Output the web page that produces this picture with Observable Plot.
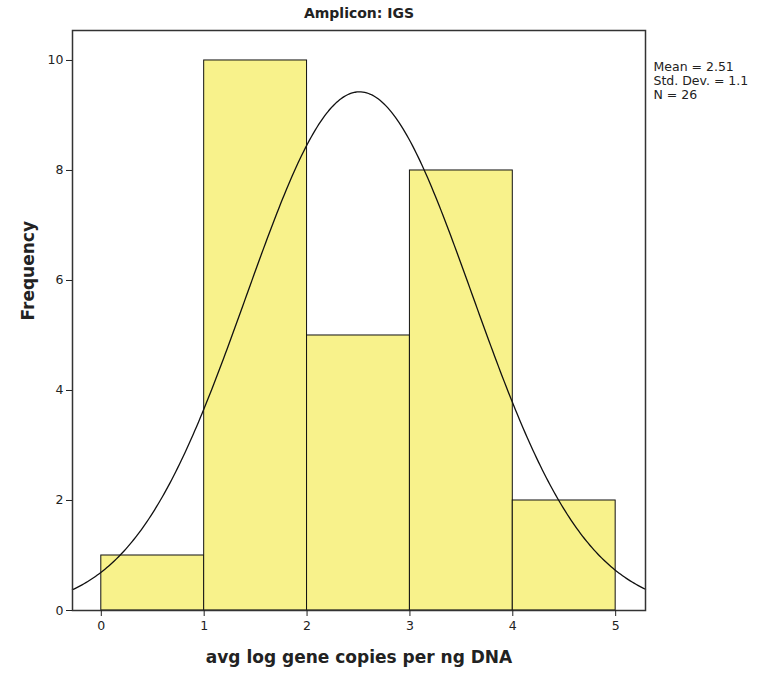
<!DOCTYPE html>
<html>
<head>
<meta charset="utf-8">
<script src="https://cdn.jsdelivr.net/npm/d3@7"></script>
<script src="https://cdn.jsdelivr.net/npm/@observablehq/plot@0.6"></script>
<style>
  html, body { margin: 0; padding: 0; background: #fff; }
  #chart { width: 765px; height: 679px; }
</style>
</head>
<body>
<div id="chart"></div>
<script>
const binStart = [0, 1, 2, 3, 4];
const binEnd = [1, 2, 3, 4, 5];
const frequency = [1, 10, 5, 8, 2];
const xTicks = [0, 1, 2, 3, 4, 5];
const yTicks = [0, 2, 4, 6, 8, 10];
const meanVal = 2.51;
const sdVal = 1.1;
const nVal = 26;
const statLines = ["Mean = 2.51", "Std. Dev. = 1.1", "N = 26"];

const bars = binStart.map((s, i) => ({x1: s, x2: binEnd[i], y: frequency[i]}));

const xDomain = [-0.28, 5.29];
const curve = d3.range(0, 301).map(i => {
  const x = xDomain[0] + (xDomain[1] - xDomain[0]) * i / 300;
  const z = (x - meanVal) / sdVal;
  return {x, y: nVal * 1 / (sdVal * Math.sqrt(2 * Math.PI)) * Math.exp(-0.5 * z * z)};
});

const font = "'DejaVu Sans', sans-serif";

const plot = Plot.plot({
  width: 765,
  height: 679,
  marginLeft: 72,
  marginRight: 120,
  marginTop: 30,
  marginBottom: 69,
  style: {fontFamily: font, fontSize: "12px", background: "#fff", color: "#222"},
  x: {domain: xDomain, ticks: xTicks, tickSize: 6, tickFormat: d3.format("d"), label: null},
  y: {domain: [0, 10.545], ticks: yTicks, tickSize: 6, tickFormat: d3.format("d"), label: null},
  marks: [
    Plot.rectY(bars, {x1: "x1", x2: "x2", y: "y", fill: "#f8f28b", stroke: "#111", strokeWidth: 1}),
    Plot.line(curve, {x: "x", y: "y", stroke: "#111", strokeWidth: 1.3, curve: "linear"}),
    Plot.frame({stroke: "#333", strokeWidth: 1.5}),
    Plot.axisX({ticks: xTicks, tickSize: 6, tickPadding: 5, tickFormat: d3.format("d"), label: null, fontSize: 12.5}),
    Plot.axisY({ticks: yTicks, tickSize: 6, tickPadding: 3, tickFormat: d3.format("d"), label: null, fontSize: 12.5}),
    Plot.text(["Amplicon: IGS"], {frameAnchor: "top", dy: -22, lineAnchor: "top", fontWeight: "bold", fontSize: 14}),
    Plot.text(["avg log gene copies per ng DNA"], {frameAnchor: "bottom", dy: 52, fontWeight: "bold", fontSize: 17}),
    Plot.text(["Frequency"], {frameAnchor: "left", dx: -44, rotate: -90, fontWeight: "bold", fontSize: 17}),
    Plot.text([statLines.join("\n")], {frameAnchor: "top-right", dx: 8, dy: 31, lineAnchor: "top", textAnchor: "start", fontSize: 12.5, lineHeight: 1.1})
  ]
});
document.getElementById("chart").appendChild(plot);
</script>
</body>
</html>
